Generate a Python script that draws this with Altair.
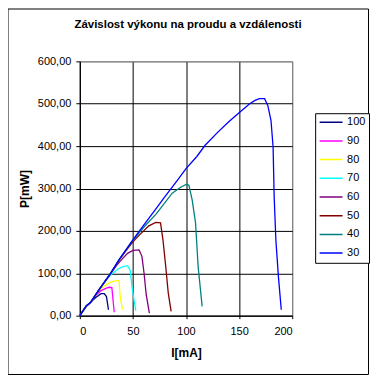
import altair as alt
import pandas as pd

series = ["100", "90", "80", "70", "60", "50", "40", "30"]
colors = ["#000080", "#FF00FF", "#FFFF00", "#00FFFF", "#800080", "#800000", "#008080", "#0000FF"]
title_text = "Závislost výkonu na proudu a vzdálenosti"

I_100 = [0, 6, 10, 15, 20, 23, 25.1, 27]
P_100 = [0, 22, 31, 43, 52, 52, 45, 14]
I_90 = [0, 6, 10, 15, 20, 25, 27.7, 30.2, 31, 32.4]
P_90 = [0, 22, 31, 48, 59, 65, 67, 66, 45, 8]
I_80 = [0, 6, 10, 18, 22, 26, 30, 35.5, 37, 38, 40.2]
P_80 = [0, 22, 31, 60, 68, 75, 80, 83, 82, 45, 14]
I_70 = [0, 6, 10, 18, 25, 30, 36, 40, 44.8, 47.4, 49.5, 52.7]
P_70 = [0, 22, 31, 61, 85, 98, 110, 115, 118, 108, 61, 12]
I_60 = [0, 6, 10, 18, 28, 35, 40, 45, 50, 55.8, 58.5, 60.5, 62.5, 65.5]
P_60 = [0, 22, 31, 61, 95, 120, 134, 147, 154, 155, 140, 100, 50, 6]
I_50 = [0, 6, 10, 18, 28, 37, 45, 50, 56, 65, 71.5, 76, 78.3, 80.9, 83.3, 86]
P_50 = [0, 23, 31, 61, 96, 131, 158, 174, 190, 212, 220, 219, 179, 116, 53, 10]
I_40 = [0, 6, 10, 18, 28, 37, 50, 60, 72, 87, 95, 100.5, 102.7, 105.8, 109, 111.4, 115.2]
P_40 = [0, 23, 31, 61, 96, 132, 178, 208, 240, 289, 303, 310, 308, 273, 218, 116, 22]
I_30 = [0, 6, 10, 18, 28, 37, 50, 60, 72, 80, 92, 100, 110, 118, 130, 140, 150, 160, 165, 169, 174, 177, 180, 182, 183, 184.6, 187, 189.7]
P_30 = [0, 23, 31, 61, 96, 132, 179, 213, 253, 280, 320, 347, 375, 402, 433, 457, 479, 500, 508, 512, 512, 496, 461, 398, 281, 179, 92, 14]

data = {
    "100": (I_100, P_100), "90": (I_90, P_90), "80": (I_80, P_80), "70": (I_70, P_70),
    "60": (I_60, P_60), "50": (I_50, P_50), "40": (I_40, P_40), "30": (I_30, P_30),
}
rows = []
for s in series:
    xs, ys = data[s]
    for k, (a, b) in enumerate(zip(xs, ys)):
        rows.append({"s": s, "I": a, "P": b, "k": k})
df = pd.DataFrame(rows)

FONT = "Liberation Sans"

lines = alt.Chart(df).mark_line(strokeWidth=1.3, interpolate="linear").encode(
    x=alt.X("I:Q", scale=alt.Scale(domain=[0, 200], nice=False),
            axis=alt.Axis(values=[0, 50, 100, 150, 200], title="I[mA]", format="d",
                          grid=True,
                          gridColor={"condition": {"test": "datum.value == 200", "value": "#808080"}, "value": "black"},
                          domainColor="black", tickColor="black", tickSize=3,
                          labelPadding=7, labelFont=FONT, labelFontSize=11, labelColor="black",
                          titleFont=FONT, titleFontSize=12, titleFontWeight="bold", titleColor="black",
                          titleX=106.5, titleY=41, titleBaseline="alphabetic", titleAlign="center")),
    y=alt.Y("P:Q", scale=alt.Scale(domain=[0, 600], nice=False),
            axis=alt.Axis(values=[0, 100, 200, 300, 400, 500, 600], title="P[mW]",
                          labelExpr="replace(format(datum.value, '.2f'), '.', ',')",
                          grid=True,
                          gridColor={"condition": {"test": "datum.value == 600", "value": "#808080"}, "value": "black"},
                          domainColor="black", tickColor="black", tickSize=4,
                          labelPadding=5, labelFont=FONT, labelFontSize=11, labelColor="black",
                          titleFont=FONT, titleFontSize=12, titleFontWeight="bold", titleColor="black",
                          titleX=-51, titleY=127.5, titleAngle=-90, titleBaseline="alphabetic", titleAlign="center")),
    color=alt.Color("s:N", scale=alt.Scale(domain=series, range=colors),
                    legend=alt.Legend(title=None, orient="none", legendX=236, legendY=52,
                                      symbolType="stroke", symbolSize=529, symbolStrokeWidth=1.5,
                                      clipHeight=11, rowPadding=6.75, padding=3.5,
                                      labelFont=FONT, labelFontSize=11, labelColor="black", labelOffset=3.5,
                                      strokeColor="black", fillColor="white")),
    order=alt.Order("k:Q"),
)

base = alt.Chart(pd.DataFrame({"t": [title_text]}))

frame = base.mark_rect(filled=False, stroke="black", strokeWidth=1).encode(
    x=alt.value(-72), x2=alt.value(289.5), y=alt.value(-52.5), y2=alt.value(314)
)

title = base.mark_text(font=FONT, fontSize=11.5, fontWeight="bold", color="black",
                       align="center", baseline="alphabetic").encode(
    text="t:N", x=alt.value(108.5), y=alt.value(-33)
)

chart = alt.layer(frame, title, lines).properties(
    width=213, height=255,
    autosize=alt.AutoSizeParams(type="none"),
    padding={"left": 72, "top": 53, "right": 78, "bottom": 60},
    background="white",
).configure_view(stroke="#808080", strokeWidth=1)

chart.save("out.html", embed_options={"renderer": "svg", "actions": False})
